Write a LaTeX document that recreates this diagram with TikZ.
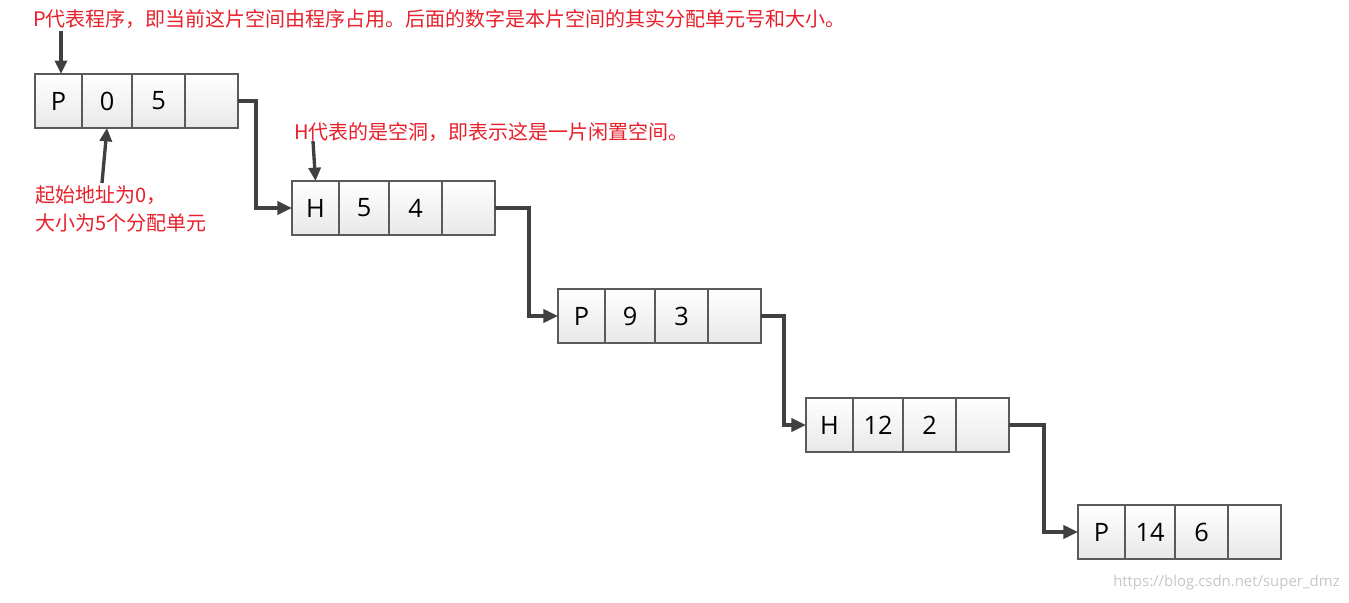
\documentclass[tikz,border=0pt]{standalone}
\usepackage{fontspec}
\setmainfont{Open Sans}
\newfontfamily\cjk{Noto Sans CJK SC}
\usetikzlibrary{arrows.meta,calc}
\definecolor{anred}{RGB}{232,32,44}
\definecolor{lnk}{RGB}{64,64,64}
\definecolor{cellbd}{RGB}{90,90,90}
\tikzset{
  cell/.style={draw=cellbd,line width=0.9pt,inner sep=0pt,outer sep=0pt,
    minimum height=40.5pt,anchor=west,top color=white,bottom color=black!9,
    font=\fontsize{19}{22}\selectfont},
  link/.style={draw=lnk,line width=2.5pt,-{Triangle[length=11pt,width=10pt]}},
  ann/.style={draw=lnk,line width=2.5pt,-{Triangle[length=10pt,width=9pt]}},
  note/.style={text=anred,inner sep=0pt,font=\cjk\fontsize{15}{21}\selectfont},
}
\newcommand\memblock[6]{%
  % #1 name prefix, #2 x, #3 y(center), #4 type, #5 start, #6 size
  \node[cell,minimum width=35.25pt] (#1a) at (#2,#3) {#4};
  \node[cell,minimum width=37.5pt] (#1b) at (#1a.east) {#5};
  \node[cell,minimum width=39.75pt] (#1c) at (#1b.east) {#6};
  \node[cell,minimum width=39.75pt] (#1d) at (#1c.east) {};
}
\begin{document}
\begin{tikzpicture}[x=0.75pt,y=-0.75pt]
\useasboundingbox[fill=white] (0,0) rectangle (1349,603);

\memblock{b1}{35}{101}{P}{0}{5}
\memblock{b2}{292}{208}{H}{5}{4}
\memblock{b3}{558}{316}{P}{9}{3}
\memblock{b4}{806}{425}{H}{12}{2}
\memblock{b5}{1078}{532}{P}{14}{6}

\draw[link] (b1d.east) -- ++(18,0) |- (b2a.west);
\draw[link] (b2d.east) -- ++(34,0) |- (b3a.west);
\draw[link] (b3d.east) -- ++(23,0) |- (b4a.west);
\draw[link] (b4d.east) -- ++(35,0) |- (b5a.west);

\node[note,anchor=west] (t1) at (33,19) {P代表程序，即当前这片空间由程序占用。后面的数字是本片空间的其实分配单元号和大小。};
\node[note,anchor=west] (t2) at (294,132) {H代表的是空洞，即表示这是一片闲置空间。};
\node[note,anchor=north west,align=left] (t3) at (35,185) {起始地址为0，\\大小为5个分配单元};

\coordinate (a1s) at (61,31);
\coordinate (a2s) at (102,183);
\coordinate (a3s) at (313,141);
\draw[ann] (a1s) -- (a1s |- b1a.north);
\draw[ann] (a2s) -- (b1b.south);
\draw[ann] (a3s) -- (b2a.north);

\node[anchor=east,text=black!22,inner sep=0pt,font=\fontsize{11.2}{13}\selectfont] (wm) at (1340,583) {https://blog.csdn.net/super\_dmz};
\end{tikzpicture}
\end{document}
